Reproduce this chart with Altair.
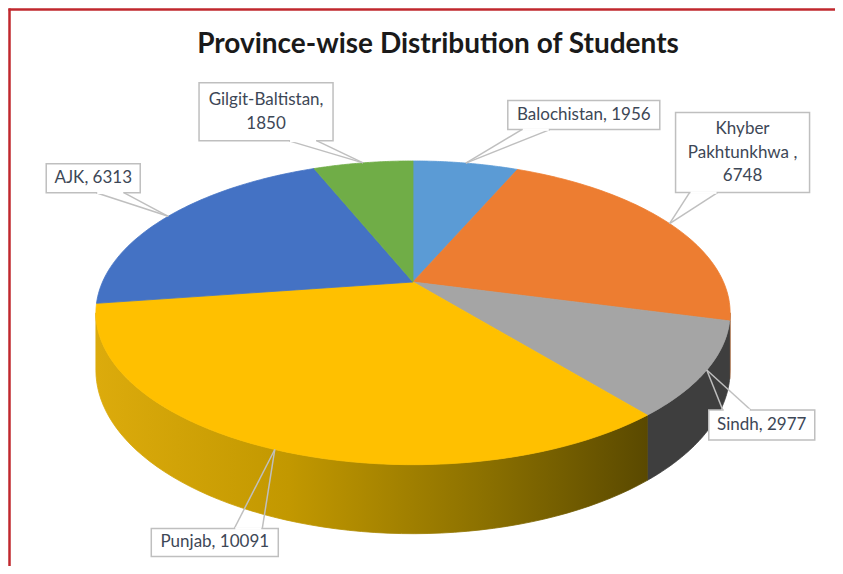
import math
import textwrap
import altair as alt
import pandas as pd

# ---------------- data ----------------
provinces = ["Balochistan", "Khyber Pakhtunkhwa ", "Sindh", "Punjab", "AJK", "Gilgit-Baltistan"]
students = [1956, 6748, 2977, 10091, 6313, 1850]

# ---------------- styles / layout ----------------
top_colors = ["#5b9bd5", "#ed7d31", "#a5a5a5", "#ffc000", "#4472c4", "#70ad47"]
side_fills = {
    1: "#a9551d",
    2: "#3e3e3e",
    3: {"gradient": "linear", "x1": 0, "x2": 1, "y1": 0, "y2": 0,
        "stops": [{"offset": 0, "color": "#dcab0c"}, {"offset": 0.35, "color": "#c29800"},
                  {"offset": 0.7, "color": "#8c7100"}, {"offset": 1, "color": "#5a4900"}]},
}
label_dx = [118, 73, 55, -60, -75, -97]      # label box centre relative to pointer tip (px)
label_dy = [-48, -71, 55, 93, -38, -51]
box_w = [152, 134, 106, 127, 94, 134]
box_h = [29, 80, 30, 28, 29, 58]
wrap_width = [24, 14, 24, 24, 24, 17]
title_text = "Province-wise Distribution of Students"
LINE_H = 23.5

# pie geometry (screen pixels)
CX, CY, RX, RY, H, K, N = 413, 282, 310.5, 145.6, 55, 0.203, 60
LO = math.acos(-K)
HI = 2 * math.pi - LO

W, HT = 827, 558
labels = ["\n".join(textwrap.wrap(f"{p}, {v}", w, break_on_hyphens=False))
          for p, v, w in zip(provinces, students, wrap_width)]

df = pd.DataFrame({
    "idx": list(range(len(provinces))),
    "province": provinces,
    "students": students,
    "label": labels,
    "nl": [lb.count("\n") for lb in labels],
    "ldx": label_dx, "ldy": label_dy, "bw": box_w, "bh": box_h,
})

xs = alt.Scale(domain=[8, 8 + W], nice=False, zero=False)
ys = alt.Scale(domain=[8, 8 + HT], reverse=True, nice=False, zero=False)
cscale = alt.Scale(domain=provinces, range=top_colors)

geo = (alt.Chart(df)
       .transform_window(cum="sum(students)", sort=[alt.SortField("idx")], frame=[None, 0])
       .transform_joinaggregate(total="sum(students)")
       .transform_calculate(a0="2*PI*(datum.cum - datum.students)/datum.total")
       .transform_calculate(a1="2*PI*datum.cum/datum.total"))


def project(ch, extra_y=""):
    return (ch.transform_calculate(u="datum.rim * sin(datum.ang)")
              .transform_calculate(v="datum.rim * cos(datum.ang)")
              .transform_calculate(s=f"1 / (1 + {K} * datum.v)")
              .transform_calculate(px=f"{CX} + {RX} * datum.u * datum.s")
              .transform_calculate(py=f"{CY} - {RY} * datum.v * datum.s" + extra_y))


# side walls
side_layers = []
for i, fill in side_fills.items():
    ch = (geo.transform_filter(alt.datum.idx == i)
          .transform_calculate(s0=f"max(datum.a0, {LO})")
          .transform_calculate(s1=f"min(datum.a1, {HI})")
          .transform_filter("datum.s1 > datum.s0")
          .transform_calculate(ks=f"sequence(0, {2 * N + 2})")
          .transform_flatten(["ks"])
          .transform_calculate(j=f"datum.ks <= {N} ? datum.ks : {2 * N + 1} - datum.ks")
          .transform_calculate(bot=f"datum.ks > {N} ? 1 : 0")
          .transform_calculate(rim="1")
          .transform_calculate(ang=f"datum.s0 + (datum.s1 - datum.s0) * datum.j / {N}"))
    ch = project(ch, f" + datum.bot * {H} * datum.s")
    side_layers.append(
        ch.mark_line(filled=True, interpolate="linear-closed", fill=fill, stroke=fill, strokeWidth=0.8)
          .encode(x=alt.X("px:Q", scale=xs, axis=None),
                  y=alt.Y("py:Q", scale=ys, axis=None),
                  order="ks:Q"))

# top faces
top = (geo.transform_calculate(ks=f"sequence(0, {N + 2})")
          .transform_flatten(["ks"])
          .transform_calculate(rim="datum.ks > 0 ? 1 : 0")
          .transform_calculate(ang=f"datum.a0 + (datum.a1 - datum.a0) * max(datum.ks - 1, 0) / {N}"))
top = project(top).mark_line(filled=True, interpolate="linear-closed", strokeWidth=0.8).encode(
    x=alt.X("px:Q", scale=xs, axis=None),
    y=alt.Y("py:Q", scale=ys, axis=None),
    order="ks:Q",
    detail="province:N",
    fill=alt.Fill("province:N", scale=cscale, legend=None),
    stroke=alt.Stroke("province:N", scale=cscale, legend=None),
)

# label callouts
lab = (geo.transform_calculate(mid="(datum.a0 + datum.a1) / 2")
          .transform_calculate(ts=f"1 / (1 + {K} * cos(datum.mid))")
          .transform_calculate(tipx=f"{CX} + {RX} * sin(datum.mid) * datum.ts")
          .transform_calculate(tipy=f"{CY} - {RY} * cos(datum.mid) * datum.ts")
          .transform_calculate(cx="datum.tipx + datum.ldx")
          .transform_calculate(cy="datum.tipy + datum.ldy")
          .transform_calculate(ty=f"datum.cy - datum.nl * {LINE_H} / 2")
          .transform_calculate(bx0="datum.cx - datum.bw / 2")
          .transform_calculate(bx1="datum.cx + datum.bw / 2")
          .transform_calculate(by0="datum.cy - datum.bh / 2")
          .transform_calculate(by1="datum.cy + datum.bh / 2")
          .transform_calculate(ey="datum.tipy > datum.by1 ? datum.by1 : datum.by0")
          .transform_calculate(bc="clamp(datum.tipx, datum.bx0 + 28, datum.bx1 - 30)")
          .transform_calculate(bl="datum.bc - 14")
          .transform_calculate(br="datum.bc + 14")
          .transform_calculate(el="datum.bl + 1")
          .transform_calculate(er="datum.br - 1"))

GRAY = "#bfbfbf"
ptr_l = lab.mark_rule(color=GRAY, strokeWidth=1.5).encode(
    x=alt.X("bl:Q", scale=xs, axis=None), y=alt.Y("ey:Q", scale=ys, axis=None),
    x2="tipx:Q", y2="tipy:Q")
ptr_r = lab.mark_rule(color=GRAY, strokeWidth=1.5).encode(
    x=alt.X("br:Q", scale=xs, axis=None), y=alt.Y("ey:Q", scale=ys, axis=None),
    x2="tipx:Q", y2="tipy:Q")
boxes = lab.mark_rect(fill="white", stroke=GRAY, strokeWidth=1.5).encode(
    x=alt.X("bx0:Q", scale=xs, axis=None), x2="bx1:Q",
    y=alt.Y("by0:Q", scale=ys, axis=None), y2="by1:Q")
eraser = lab.mark_rule(color="white", strokeWidth=2.5).encode(
    x=alt.X("el:Q", scale=xs, axis=None), x2="er:Q",
    y=alt.Y("ey:Q", scale=ys, axis=None))
texts = lab.mark_text(font="Lato", fontSize=17, color="#3d4756", lineBreak="\n",
                      lineHeight=LINE_H, align="center", baseline="middle").encode(
    x=alt.X("cx:Q", scale=xs, axis=None), y=alt.Y("ty:Q", scale=ys, axis=None),
    text="label:N")

title = alt.Chart(pd.DataFrame({"t": [title_text]})).mark_text(
    font="Lato", fontSize=28, fontWeight="bold", color="#1a1a1a",
    align="center", baseline="alphabetic").encode(
    x=alt.value(430), y=alt.value(45), text="t:N")

frame_df = pd.DataFrame({"a": [0]})
frame_top = alt.Chart(frame_df).mark_rule(color="#c0282e", strokeWidth=2.5).encode(
    x=alt.value(0.5), x2=alt.value(W), y=alt.value(1.5))
frame_left = alt.Chart(frame_df).mark_rule(color="#c0282e", strokeWidth=2.5).encode(
    x=alt.value(1.5), y=alt.value(0.5), y2=alt.value(HT))

chart = alt.layer(
    *side_layers, top, ptr_l, ptr_r, boxes, eraser, texts, title, frame_top, frame_left
).properties(
    width=W, height=HT, padding=0, autosize=alt.AutoSizeParams(type="none")
).configure_view(stroke=None)

chart.save("out.html", embed_options={"renderer": "svg", "actions": False})
